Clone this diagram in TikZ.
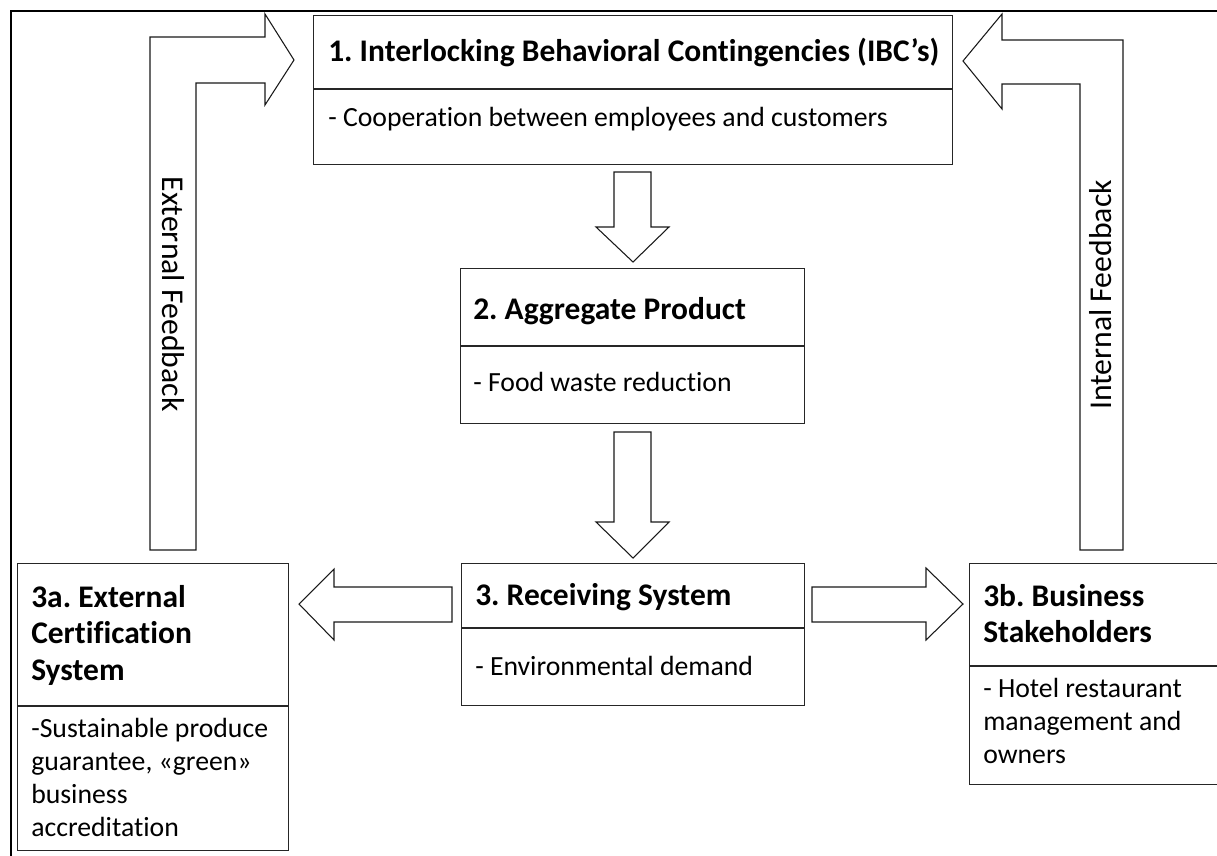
\documentclass[tikz,border=0pt]{standalone}
\usepackage{fontspec}
\setmainfont{Carlito}[Ligatures={NoCommon}]
\begin{document}
\frenchspacing
\begin{tikzpicture}[x=0.75pt,y=-0.75pt,
  frame/.style={draw=black,line width=1.7pt},
  box/.style={draw=black!85,line width=1pt,anchor=north west,inner sep=0pt},
  rule/.style={draw=black!85,line width=1pt},
  blk/.style={draw=black!90,line width=0.8pt,fill=white,line join=miter},
  ttl/.style={anchor=base west,inner sep=0pt,font=\fontsize{23.6}{27.5}\selectfont\bfseries},
  txt/.style={anchor=base west,inner sep=0pt,font=\fontsize{20.8}{24.75}\selectfont},
  fb/.style={inner sep=0pt,font=\fontsize{23.8}{28}\selectfont}]
\useasboundingbox (0,0) rectangle (1217,856);
\clip (0,0) rectangle (1217,856);

% outer frame
\draw[frame] (11,856) -- (11,11) -- (1217,11);

% boxes
\node[box,minimum width=479.25pt,minimum height=111.75pt] (b1) at (313,15) {};
\node[box,minimum width=258pt,minimum height=116.25pt] (b2) at (460,268) {};
\node[box,minimum width=257.25pt,minimum height=106.5pt] (b3) at (461,563) {};
\node[box,minimum width=203.25pt,minimum height=215.25pt] (b3a) at (17,563) {};
\node[box,minimum width=203.25pt,minimum height=165.75pt] (b3b) at (969,563) {};

% dividers between heading and description
\draw[rule] (b1.west |- 0,89) -- (b1.east |- 0,89);
\draw[rule] (b2.west |- 0,346) -- (b2.east |- 0,346);
\draw[rule] (b3.west |- 0,628) -- (b3.east |- 0,628);
\draw[rule] (b3a.west |- 0,706) -- (b3a.east |- 0,706);
\draw[rule] (b3b.west |- 0,666) -- (b3b.east |- 0,666);

% headings
\node[ttl] (t1) at (328,62) {1. Interlocking Behavioral Contingencies (IBC’s)};
\node[ttl] (t2) at (473,319) {2. Aggregate Product};
\node[ttl] (t3) at (475,605) {3. Receiving System};
\node[ttl] (t3a) at (31,607) {\begin{tabular}[t]{@{}l@{}}3a. External\\Certification\\System\end{tabular}};
\node[ttl] (t3b) at (983,606) {\begin{tabular}[t]{@{}l@{}}3b. Business\\Stakeholders\end{tabular}};

% descriptions
\node[txt] (d1) at (328,127) {- Cooperation between employees and customers};
\node[txt] (d2) at (473,391) {- Food waste reduction};
\node[txt] (d3) at (475,675) {- Environmental demand};
\node[txt] (d3a) at (31,737) {\begin{tabular}[t]{@{}l@{}}-Sustainable produce\\guarantee, «green»\\business\\accreditation\end{tabular}};
\node[txt] (d3b) at (983,697) {\begin{tabular}[t]{@{}l@{}}- Hotel restaurant\\management and\\owners\end{tabular}};

% block arrows down the middle
\draw[blk] (614,172) -- (651,172) -- (651,227) -- (669,227) -- (633,262) -- (596,227) -- (614,227) -- cycle;
\draw[blk] (614,432) -- (651,432) -- (651,522) -- (669,522) -- (633,558) -- (596,522) -- (614,522) -- cycle;

% block arrows to the sides
\draw[blk] (452,587) -- (452,622) -- (334,622) -- (334,640) -- (299,604) -- (334,569) -- (334,587) -- cycle;
\draw[blk] (812,587) -- (812,622) -- (926,622) -- (926,640) -- (963,604) -- (926,568) -- (926,587) -- cycle;

% feedback arrows
\draw[blk] (150,550) -- (150,37) -- (265,37) -- (265,14) -- (294,60) -- (265,105) -- (265,83) -- (196,83) -- (196,550) -- cycle;
\draw[blk] (1123,550) -- (1123,40) -- (1002,40) -- (1002,14) -- (963,61) -- (1002,109) -- (1002,84) -- (1080,84) -- (1080,550) -- cycle;

\node[fb,rotate=-90] (ext) at (173,294) {External Feedback};
\node[fb,rotate=90] (int) at (1101,295) {Internal Feedback};
\end{tikzpicture}
\end{document}
